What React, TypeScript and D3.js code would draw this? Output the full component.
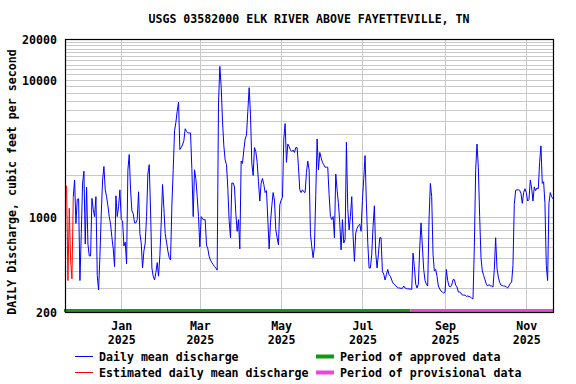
import * as d3 from 'd3';
import React, { useEffect, useRef } from 'react';

// Daily mean discharge, cfs
const startDate = '2024-11-21';

// first days are estimated (red)
const estimatedFlow = [1680, 340, 1150, 480, 350, 1400];

// continues from the last estimated day (2024-11-26)
const dailyFlow = [
  1400, 1850, 890, 1340, 1350, 340, 750, 1760, 2150, 630, 1640, 630, 515, 515, 1360, 1130, 1000, 1400, 370, 290,
  510, 1040, 1850, 2330, 1570, 1400, 1200, 1000, 880, 700, 580, 430, 1420, 1000, 1180, 1570, 950, 930, 610, 650,
  450, 2200, 2850, 1570, 1100, 1050, 900, 900, 950, 1520, 750, 640, 420, 560, 640, 1000, 2050, 2400, 1100, 420,
  366, 343, 390, 460, 366, 520, 900, 1720, 1150, 750, 650, 560, 500, 480, 1200, 2200, 4250, 4900, 5900, 6900,
  3100, 3200, 3350, 3600, 4400, 4200, 4100, 4100, 4100, 2250, 1000, 2200, 1900, 1400, 1000, 600, 1000, 960, 950, 950,
  620, 580, 510, 480, 460, 445, 430, 420, 405, 6800, 12600, 9000, 5000, 3300, 2600, 2400, 1600, 930, 700, 1760,
  1760, 1650, 1050, 780, 950, 580, 2550, 2450, 3070, 3700, 3950, 5900, 8800, 5600, 2450, 2000, 3200, 3000, 2500, 1800,
  1300, 1760, 1900, 1720, 1500, 1550, 960, 580, 900, 1200, 1500, 1320, 800, 700, 620, 1220, 1320, 1380, 3700, 4800,
  2500, 3400, 3250, 3070, 3000, 3070, 2950, 3200, 3200, 2330, 1570, 1500, 1570, 1520, 1500, 2100, 2550, 2200, 750, 600,
  500, 600, 1450, 3700, 2200, 2950, 2700, 2500, 2400, 2300, 2300, 2300, 1450, 1000, 950, 1000, 700, 2050, 1570, 1250,
  900, 570, 950, 640, 680, 3500, 1150, 800, 1000, 1400, 720, 470, 760, 820, 860, 880, 780, 1320, 1900, 2800,
  1250, 650, 420, 420, 530, 850, 1200, 540, 420, 530, 700, 700, 395, 380, 343, 375, 410, 375, 365, 343,
  325, 320, 310, 305, 300, 300, 298, 298, 310, 300, 296, 296, 295, 295, 292, 540, 430, 320, 300, 320,
  580, 900, 610, 410, 340, 320, 310, 945, 1750, 1400, 530, 400, 410, 365, 310, 295, 285, 280, 275, 280,
  410, 340, 310, 305, 315, 345, 345, 315, 305, 280, 280, 275, 266, 266, 266, 260, 262, 260, 258, 252,
  250, 600, 2200, 3400, 2300, 1000, 500, 400, 370, 345, 320, 310, 318, 310, 310, 305, 410, 700, 420, 360,
  330, 315, 312, 310, 310, 305, 300, 310, 325, 330, 440, 1230, 1560, 1570, 1570, 1560, 1480, 1250, 1500, 1600,
  1500, 1300, 1330, 1850, 1620, 1300, 1650, 1550, 1620, 1600, 2500, 3300, 1750, 1800, 1250, 440, 340, 1250, 1500, 1400,
  1350,
];

const approvedUntil = '2025-08-06';

const yTickValues = [200, 1000, 10000, 20000];
const xTickDates = ['2025-01-01', '2025-03-01', '2025-05-01', '2025-07-01', '2025-09-01', '2025-11-01'];
const xTickMonths = ['Jan', 'Mar', 'May', 'Jul', 'Sep', 'Nov'];
const xTickYears = ['2025', '2025', '2025', '2025', '2025', '2025'];

const title = 'USGS 03582000 ELK RIVER ABOVE FAYETTEVILLE, TN';
const yTitle = 'DAILY Discharge, cubic feet per second';

function App() {
  const ref = useRef<SVGSVGElement>(null);

  useEffect(() => {
    const svg = d3.select(ref.current);
    svg.selectAll('*').remove();

    const left = 65, right = 554, top = 39, bottom = 312;
    const font = "'DejaVu Sans Mono', monospace";

    const parse = d3.utcParse('%Y-%m-%d');
    const start = parse(startDate) as Date;

    const x = d3.scaleUtc()
      .domain([new Date(Date.UTC(2024, 10, 19, 19)), new Date(Date.UTC(2025, 10, 21, 19))])
      .range([left, right]);
    const y = d3.scaleLog().domain([200, 20000]).range([bottom, top]);

    // horizontal grid, every 100 / 1000
    const grid = [
      ...d3.range(300, 1000, 100),
      ...d3.range(1000, 10000, 1000),
      ...d3.range(10000, 20000, 1000),
    ];
    svg.append('g')
      .selectAll('line')
      .data(grid)
      .join('line')
      .attr('x1', left).attr('x2', right)
      .attr('y1', d => Math.round(y(d)) + 0.5)
      .attr('y2', d => Math.round(y(d)) + 0.5)
      .attr('stroke', '#c8c8c8')
      .attr('stroke-width', 1);

    // vertical grid at labelled months
    const tickDates = xTickDates.map(d => parse(d) as Date);
    svg.append('g')
      .selectAll('line')
      .data(tickDates)
      .join('line')
      .attr('x1', d => Math.round(x(d)) + 0.5)
      .attr('x2', d => Math.round(x(d)) + 0.5)
      .attr('y1', top).attr('y2', bottom)
      .attr('stroke', '#c8c8c8')
      .attr('stroke-width', 1);

    // approval status bar
    const approvedEnd = parse(approvedUntil) as Date;
    svg.append('rect')
      .attr('x', left - 1).attr('y', bottom - 3)
      .attr('width', x(approvedEnd) - left + 1).attr('height', 3)
      .attr('fill', '#109a10');
    svg.append('rect')
      .attr('x', x(approvedEnd)).attr('y', bottom - 3)
      .attr('width', right - x(approvedEnd)).attr('height', 3)
      .attr('fill', '#ee44dd');

    const line = d3.line<number>()
      .x((d, i) => x(d3.utcDay.offset(start, i)))
      .y(d => y(d));

    svg.append('path')
      .datum(estimatedFlow)
      .attr('d', line)
      .attr('fill', 'none')
      .attr('stroke', '#ff0000')
      .attr('stroke-width', 1);

    const blueOffset = estimatedFlow.length - 1;
    const blueLine = d3.line<number>()
      .x((d, i) => x(d3.utcDay.offset(start, i + blueOffset)))
      .y(d => y(d));

    svg.append('path')
      .datum(dailyFlow)
      .attr('d', blueLine)
      .attr('fill', 'none')
      .attr('stroke', '#0000ff')
      .attr('stroke-width', 1);

    // frame
    svg.append('rect')
      .attr('x', left + 0.5).attr('y', top + 0.5)
      .attr('width', right - left - 1).attr('height', bottom - top)
      .attr('fill', 'none')
      .attr('stroke', '#000')
      .attr('stroke-width', 1.2);

    const text = (sel: any) => sel
      .attr('font-family', font)
      .attr('font-weight', 'bold')
      .attr('font-size', 11.6)
      .attr('fill', '#000');

    // y labels
    svg.append('g')
      .selectAll('text')
      .data(yTickValues)
      .join('text')
      .call(text)
      .attr('x', 57)
      .attr('y', d => y(d) + 1)
      .attr('text-anchor', 'end')
      .attr('dominant-baseline', 'central')
      .text(d => String(d));

    // x labels
    svg.append('g')
      .selectAll('text')
      .data(tickDates)
      .join('text')
      .call(text)
      .attr('x', d => x(d) + 0.5)
      .attr('y', 326)
      .attr('text-anchor', 'middle')
      .attr('dominant-baseline', 'central')
      .text((d, i) => xTickMonths[i]);
    svg.append('g')
      .selectAll('text')
      .data(tickDates)
      .join('text')
      .call(text)
      .attr('x', d => x(d) + 0.5)
      .attr('y', 339.5)
      .attr('text-anchor', 'middle')
      .attr('dominant-baseline', 'central')
      .text((d, i) => xTickYears[i]);

    svg.append('text')
      .call(text)
      .attr('x', 309).attr('y', 19)
      .attr('text-anchor', 'middle')
      .attr('dominant-baseline', 'central')
      .text(title);

    svg.append('text')
      .call(text)
      .attr('transform', 'translate(12,182) rotate(-90)')
      .attr('text-anchor', 'middle')
      .attr('dominant-baseline', 'central')
      .text(yTitle);

    // legend
    const legend = [
      { label: 'Daily mean discharge', color: '#0000ff', kind: 'line', lx: 75, row: 0 },
      { label: 'Estimated daily mean discharge', color: '#ff0000', kind: 'line', lx: 75, row: 1 },
      { label: 'Period of approved data', color: '#109a10', kind: 'bar', lx: 316, row: 0 },
      { label: 'Period of provisional data', color: '#ee44dd', kind: 'bar', lx: 316, row: 1 },
    ];
    const rowY = [356.5, 372.5];
    const lg = svg.append('g');
    legend.forEach(l => {
      const yy = rowY[l.row];
      if (l.kind === 'line') {
        lg.append('line')
          .attr('x1', l.lx).attr('x2', l.lx + 18)
          .attr('y1', yy).attr('y2', yy)
          .attr('stroke', l.color).attr('stroke-width', 1);
      } else {
        lg.append('rect')
          .attr('x', l.lx).attr('y', yy - 2)
          .attr('width', 18).attr('height', 4)
          .attr('fill', l.color);
      }
      lg.append('text').call(text)
        .attr('x', l.lx + 24).attr('y', yy)
        .attr('dominant-baseline', 'central')
        .text(l.label);
    });
  }, []);

  return (
    <svg
      ref={ref}
      width={576}
      height={384}
      style={{ position: 'absolute', left: 0, top: 0, background: '#fff' }}
    />
  );
}

export default App;
